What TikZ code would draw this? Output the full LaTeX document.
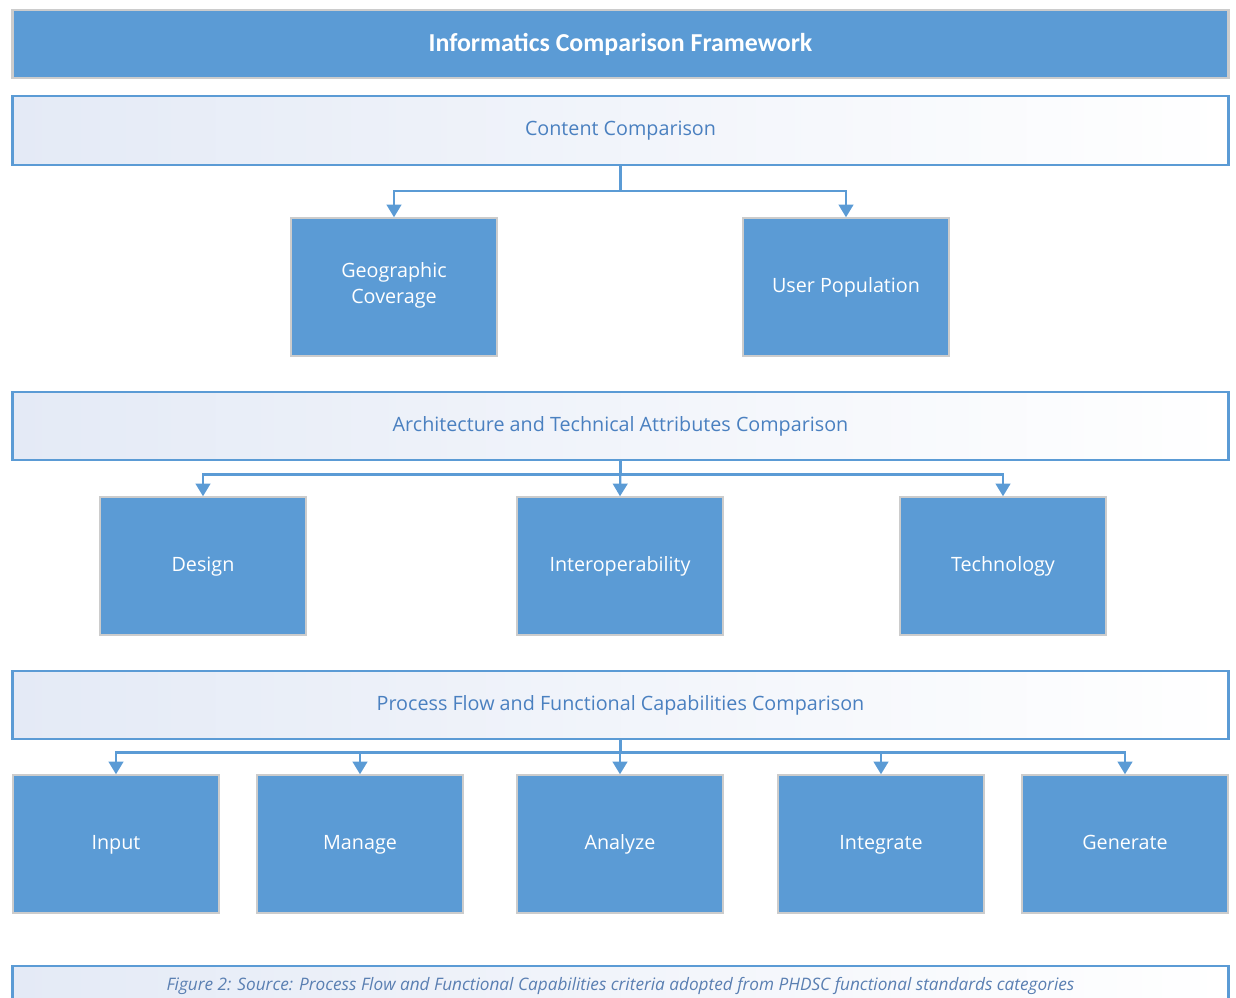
\documentclass[tikz,border=0pt]{standalone}
\usepackage{fontspec}
\setmainfont{Open Sans}
\newfontfamily\headfont{Carlito}
\usetikzlibrary{arrows.meta}

\definecolor{boxblue}{HTML}{5B9BD5}
\definecolor{textblue}{HTML}{4A80C0}
\definecolor{panelbg}{HTML}{E4EAF6}
\definecolor{capblue}{HTML}{5A7FB2}

\begin{document}
\begin{tikzpicture}[x=0.75pt,y=-0.75pt,
    panel/.style={draw=boxblue, line width=1.6pt, left color=panelbg, right color=white,
      minimum width=912pt, minimum height=51.5pt, text=textblue, font=\fontsize{14.8}{17}\selectfont},
    item/.style={fill=boxblue, draw=gray!40, line width=1.6pt, minimum width=155pt,
      minimum height=103pt, text=white, align=center, font=\fontsize{14.8}{19.5}\selectfont,
      execute at begin node=\strut},
    link/.style={draw=boxblue, line width=1.7pt, -{Triangle[width=11pt,length=9.5pt]}}]
  \useasboundingbox (0,0) rectangle (1236,997);
  \clip (0,0) rectangle (1236,997);

  \node[fill=boxblue, draw=gray!40, line width=1.6pt, minimum width=912pt, minimum height=51pt,
    text=white, font=\headfont\bfseries\fontsize{19.4}{23}\selectfont] (title) at (620.5,44) {Informatics Comparison Framework};

  % content
  \node[panel] (cc) at (620.5,130.5) {Content Comparison};
  \node[item] (geo) at (394,287) {Geographic\\Coverage};
  \node[item] (usr) at (846,287) {User Population};
  \draw[link] (cc.south) -- ++(0,25) -| (geo.north);
  \draw[link] (cc.south) -- ++(0,25) -| (usr.north);

  % architecture
  \node[panel] (arch) at (620.5,426) {Architecture and Technical Attributes Comparison};
  \node[item] (des) at (203,566) {Design};
  \node[item] (iop) at (620,566) {Interoperability};
  \node[item] (tech) at (1003,566) {Technology};
  \draw[link] (arch.south) -- ++(0,13) -| (des.north);
  \draw[link] (arch.south) -- (iop.north);
  \draw[link] (arch.south) -- ++(0,13) -| (tech.north);

  % process flow
  \node[panel] (proc) at (620.5,705) {Process Flow and Functional Capabilities Comparison};
  \foreach \name/\x/\label in {inp/116/Input, man/360/Manage, ana/620/Analyze, intg/881/Integrate, gen/1125/Generate}{
    \node[item] (\name) at (\x,844) {\label};
    \draw[link] (proc.south) -- ++(0,12) -| (\name.north);
  }

  % caption
  \node[panel, minimum height=30pt, text=capblue, font=\itshape\fontsize{12.9}{15}\selectfont] (cap) at (620.5,986)
    {Figure 2: Source: Process Flow and Functional Capabilities criteria adopted from PHDSC functional standards categories};
\end{tikzpicture}
\end{document}
